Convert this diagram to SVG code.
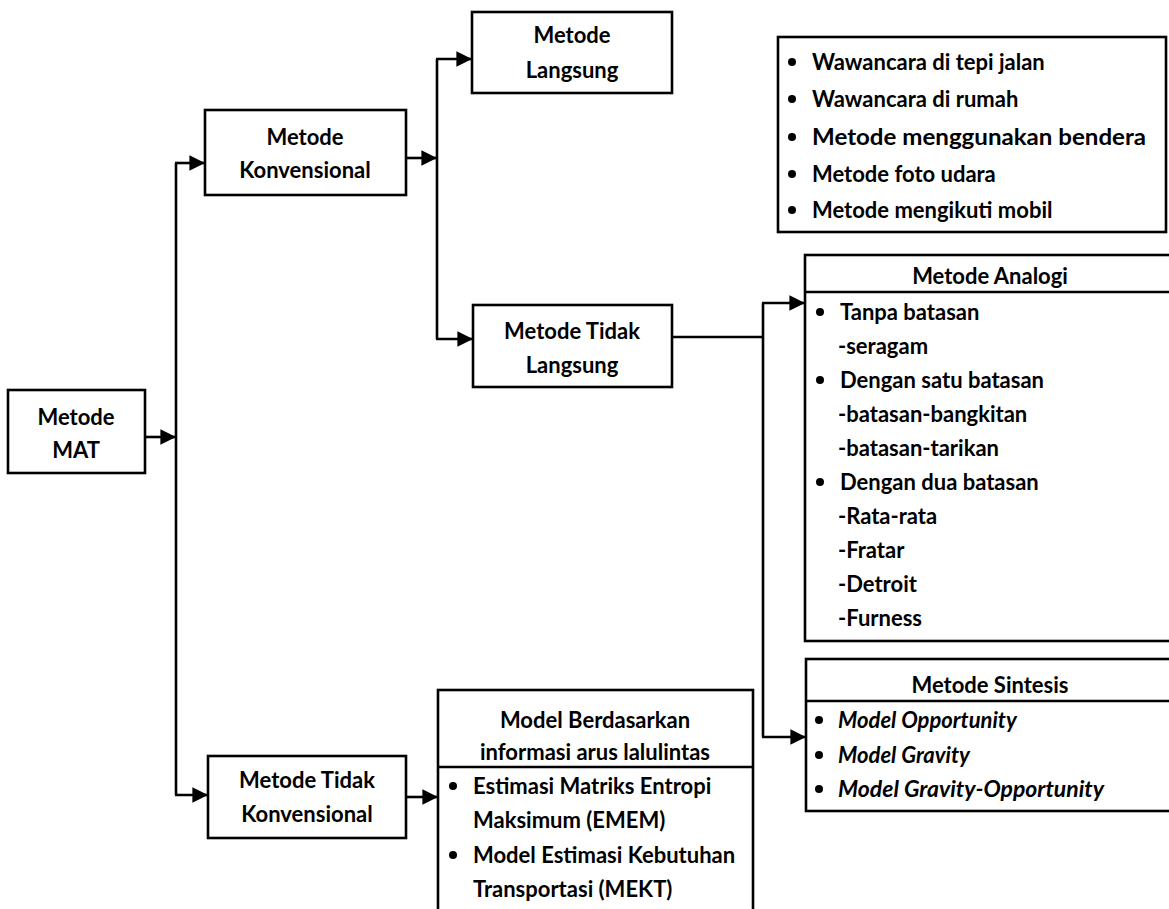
<svg xmlns="http://www.w3.org/2000/svg" width="1169" height="909" viewBox="0 0 1169 909">
<defs>
<style>
.box{fill:#fff;stroke:#000;stroke-width:2.6}
.ln{fill:none;stroke:#000;stroke-width:2.6}
.t{font-family:Lato,"Open Sans","Liberation Sans",sans-serif;font-weight:bold;font-size:22px;fill:#000}
.c{text-anchor:middle}
.i{font-style:italic}
</style>
<marker id="ah" viewBox="0 0 10 10" refX="10" refY="5" markerWidth="6" markerHeight="6.2" orient="auto" markerUnits="strokeWidth">
<path d="M0,0 L10,5 L0,10 z" fill="#000"/>
</marker>
</defs>

<g id="connectors">
<line class="ln" x1="145" y1="437" x2="176" y2="437" marker-end="url(#ah)"/>
<line class="ln" x1="176" y1="163" x2="176" y2="795"/>
<line class="ln" x1="175" y1="163" x2="205" y2="163" marker-end="url(#ah)"/>
<line class="ln" x1="175" y1="795" x2="208" y2="795" marker-end="url(#ah)"/>
<line class="ln" x1="406" y1="158" x2="437" y2="158" marker-end="url(#ah)"/>
<line class="ln" x1="437" y1="59" x2="437" y2="339"/>
<line class="ln" x1="436" y1="59" x2="472" y2="59" marker-end="url(#ah)"/>
<line class="ln" x1="436" y1="339" x2="473" y2="339" marker-end="url(#ah)"/>
<line class="ln" x1="672" y1="337" x2="764" y2="337"/>
<line class="ln" x1="763" y1="303" x2="763" y2="737"/>
<line class="ln" x1="762" y1="303" x2="805" y2="303" marker-end="url(#ah)"/>
<line class="ln" x1="762" y1="737" x2="806" y2="737" marker-end="url(#ah)"/>
<line class="ln" x1="406" y1="797" x2="438" y2="797" marker-end="url(#ah)"/>
</g>

<g id="metode-mat">
<rect class="box" x="8" y="390" width="137" height="83"/>
<text class="t c" x="76" y="425">Metode</text>
<text class="t c" x="76" y="458">MAT</text>
</g>

<g id="metode-konvensional">
<rect class="box" x="205" y="110" width="201" height="85"/>
<text class="t c" x="305" y="145">Metode</text>
<text class="t c" x="305" y="178">Konvensional</text>
</g>

<g id="metode-langsung">
<rect class="box" x="472" y="12" width="200" height="81"/>
<text class="t c" x="572" y="43">Metode</text>
<text class="t c" x="572" y="78">Langsung</text>
</g>

<g id="metode-langsung-list">
<rect class="box" x="778" y="37" width="388" height="195"/>
<circle cx="792" cy="62" r="4"/>
<text class="t" x="812" y="70">Wawancara di tepi jalan</text>
<circle cx="792" cy="99" r="4"/>
<text class="t" x="812" y="107">Wawancara di rumah</text>
<circle cx="792" cy="137" r="4"/>
<text class="t" x="812" y="145" textLength="334" lengthAdjust="spacingAndGlyphs">Metode menggunakan bendera</text>
<circle cx="792" cy="174" r="4"/>
<text class="t" x="812" y="182">Metode foto udara</text>
<circle cx="792" cy="210" r="4"/>
<text class="t" x="812" y="218">Metode mengikuti mobil</text>
</g>

<g id="metode-tidak-langsung">
<rect class="box" x="473" y="305" width="199" height="82"/>
<text class="t c" x="572" y="339">Metode Tidak</text>
<text class="t c" x="572" y="373">Langsung</text>
</g>

<g id="metode-analogi">
<rect class="box" x="805" y="255" width="380" height="386"/>
<line class="ln" x1="805" y1="292" x2="1185" y2="292"/>
<text class="t c" x="990" y="284">Metode Analogi</text>
<circle cx="820" cy="312" r="4"/>
<text class="t" x="840" y="320">Tanpa batasan</text>
<text class="t" x="838" y="354">-seragam</text>
<circle cx="820" cy="380" r="4"/>
<text class="t" x="840" y="388">Dengan satu batasan</text>
<text class="t" x="838" y="422">-batasan-bangkitan</text>
<text class="t" x="838" y="456">-batasan-tarikan</text>
<circle cx="820" cy="482" r="4"/>
<text class="t" x="840" y="490">Dengan dua batasan</text>
<text class="t" x="838" y="524">-Rata-rata</text>
<text class="t" x="838" y="558">-Fratar</text>
<text class="t" x="838" y="592">-Detroit</text>
<text class="t" x="838" y="626">-Furness</text>
</g>

<g id="metode-sintesis">
<rect class="box" x="806" y="659" width="380" height="152"/>
<line class="ln" x1="806" y1="701" x2="1186" y2="701"/>
<text class="t c" x="990" y="693">Metode Sintesis</text>
<circle cx="819" cy="720" r="4"/>
<text class="t i" x="838" y="728">Model Opportunity</text>
<circle cx="819" cy="755" r="4"/>
<text class="t i" x="838" y="763">Model Gravity</text>
<circle cx="819" cy="789" r="4"/>
<text class="t i" x="838" y="797" textLength="266" lengthAdjust="spacingAndGlyphs">Model Gravity-Opportunity</text>
</g>

<g id="metode-tidak-konvensional">
<rect class="box" x="208" y="756" width="198" height="82"/>
<text class="t c" x="307" y="788">Metode Tidak</text>
<text class="t c" x="307" y="822">Konvensional</text>
</g>

<g id="model-arus-lalulintas">
<rect class="box" x="438" y="690" width="315" height="230"/>
<line class="ln" x1="438" y1="767" x2="753" y2="767"/>
<text class="t c" x="595" y="728">Model Berdasarkan</text>
<text class="t c" x="595" y="760">informasi arus lalulintas</text>
<circle cx="453" cy="786" r="4"/>
<text class="t" x="473" y="794">Estimasi Matriks Entropi</text>
<text class="t" x="473" y="828">Maksimum (EMEM)</text>
<circle cx="453" cy="855" r="4"/>
<text class="t" x="473" y="863">Model Estimasi Kebutuhan</text>
<text class="t" x="473" y="897">Transportasi (MEKT)</text>
</g>
</svg>
